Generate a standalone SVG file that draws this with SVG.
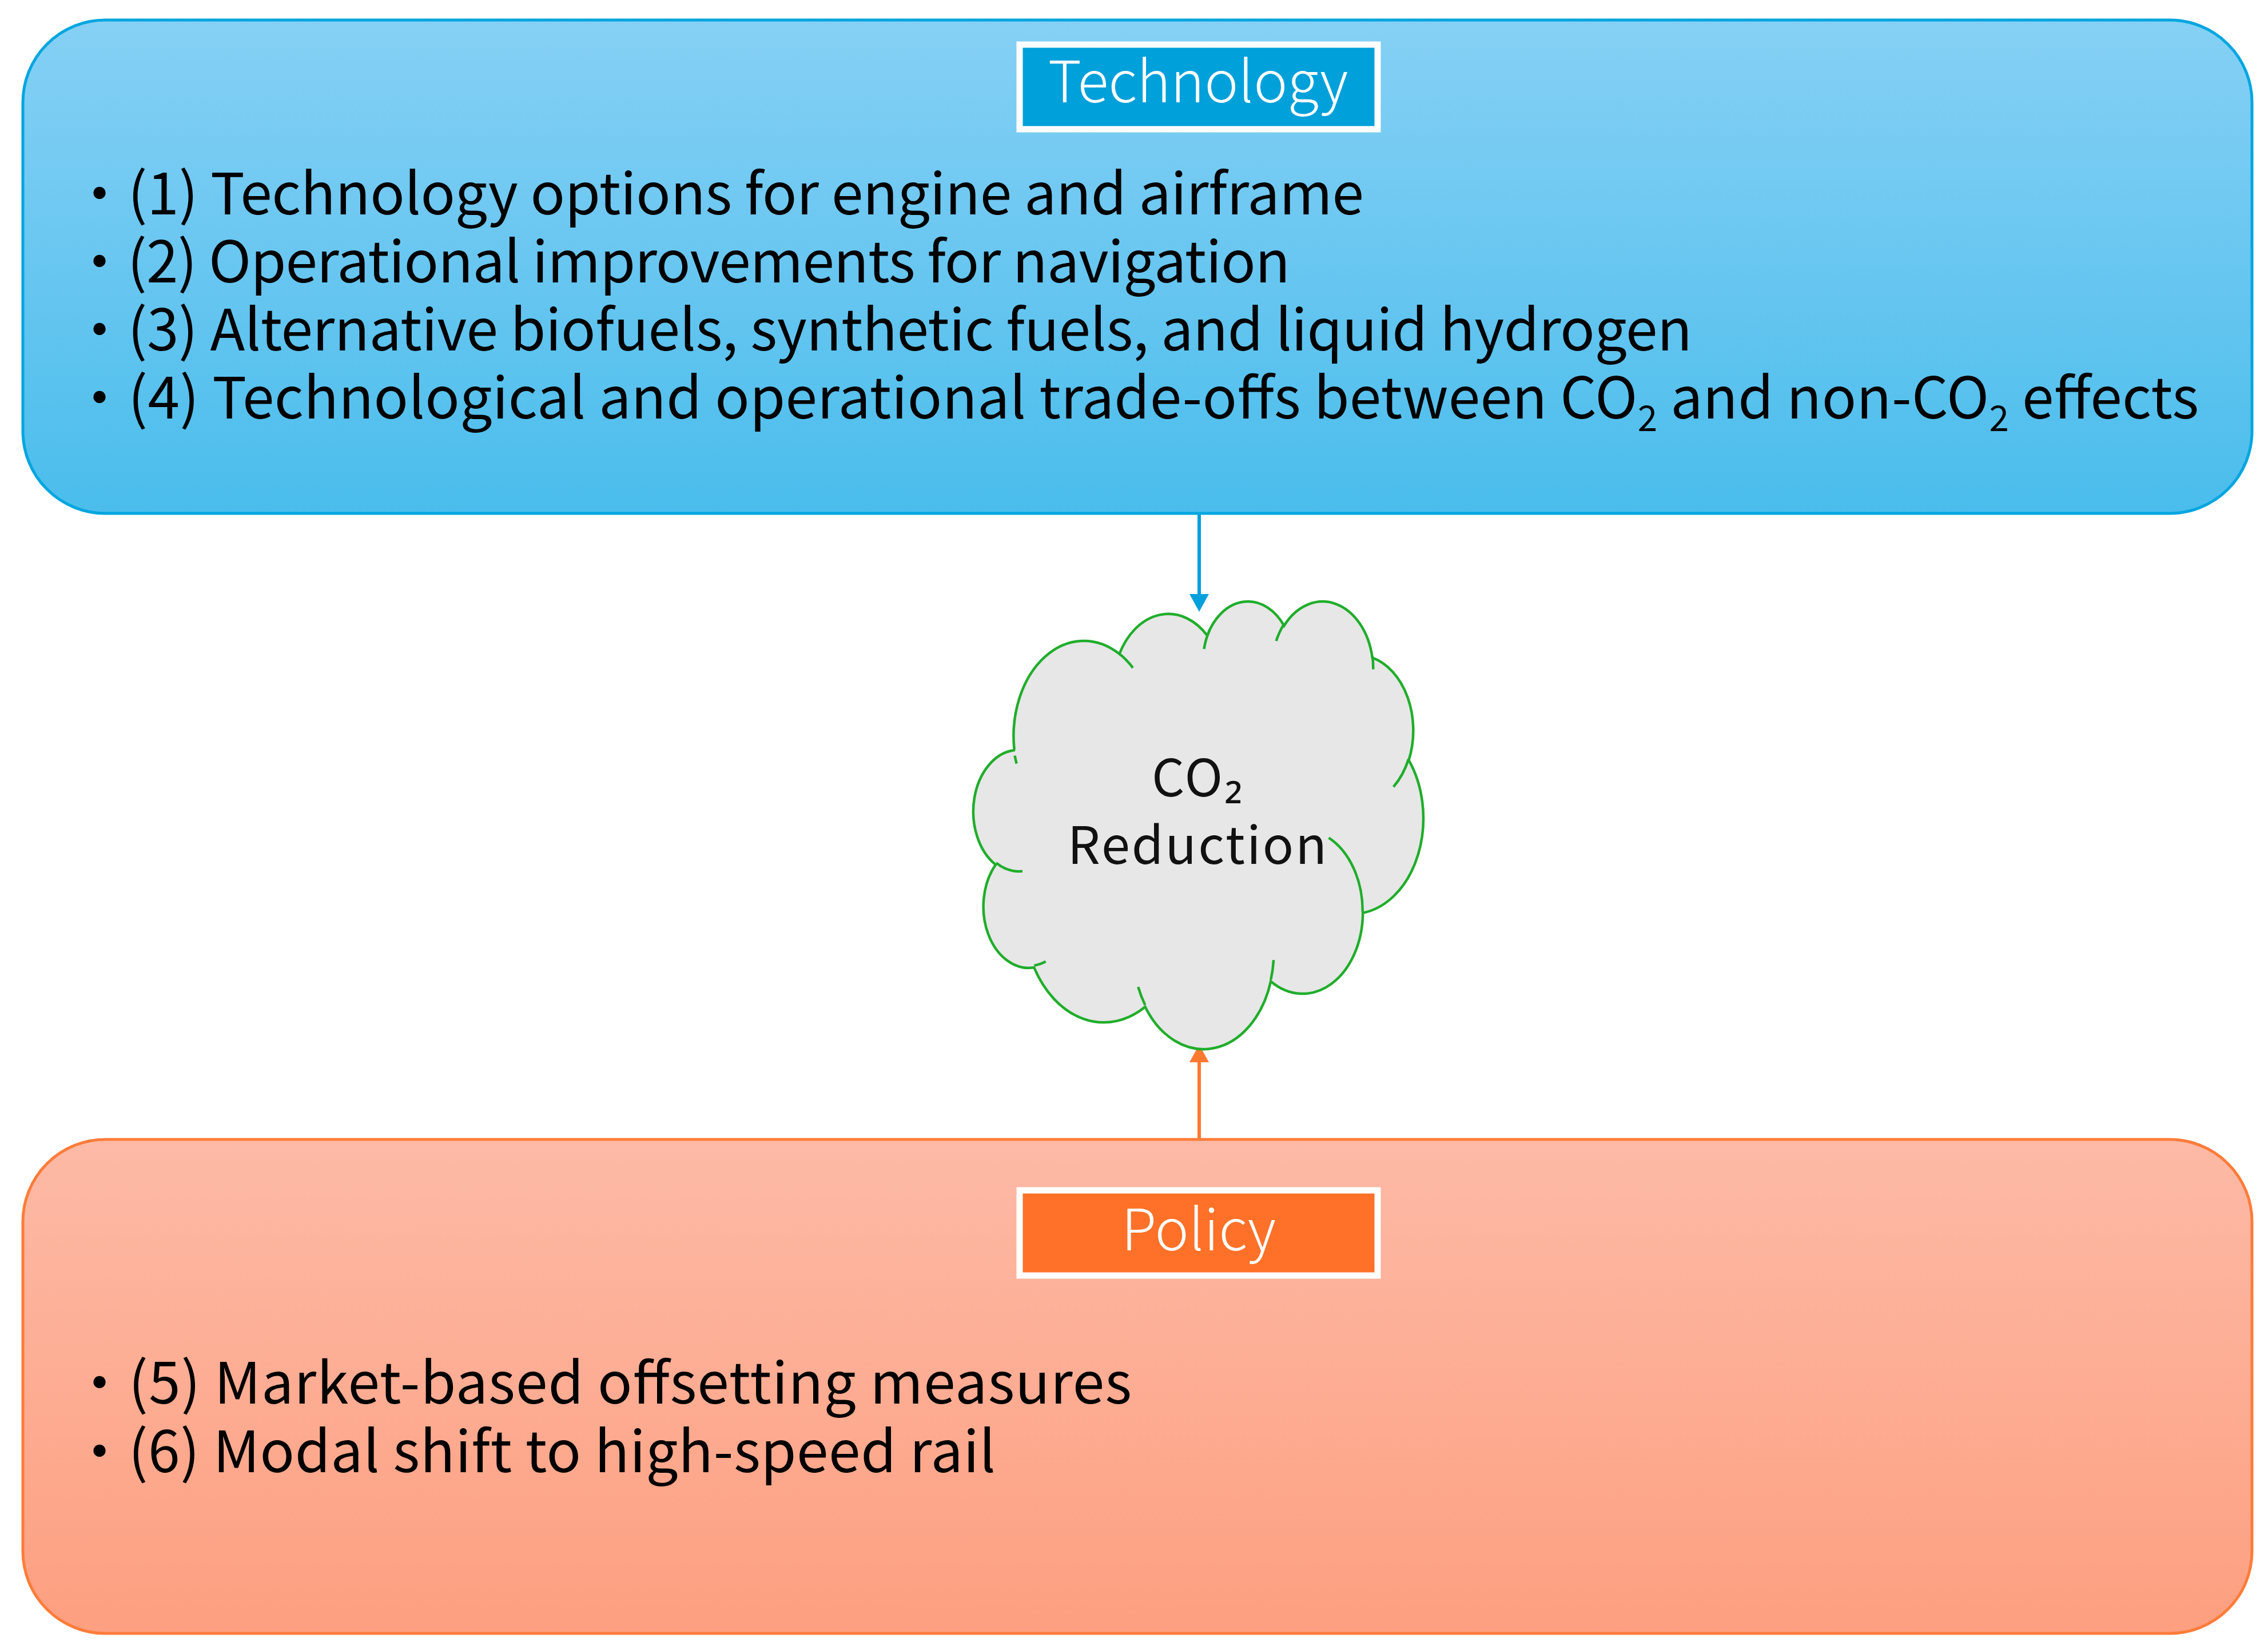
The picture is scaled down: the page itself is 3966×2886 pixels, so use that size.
<svg xmlns="http://www.w3.org/2000/svg" width="3966" height="2886" viewBox="0 0 3966 2886">
<style>
.t{font-family:"Noto Sans CJK JP","Noto Sans",sans-serif;}
.body{font-size:100px;fill:#000;}
.lab{font-size:100px;fill:#fff;font-weight:300;text-anchor:middle;}
.cl{font-size:90px;fill:#111;text-anchor:middle;letter-spacing:3px;}
.sub{font-size:62px;}
</style>
<defs>
<linearGradient id="gBlue" x1="0" y1="0" x2="0" y2="1">
<stop offset="0" stop-color="#86D0F5"/>
<stop offset="1" stop-color="#4ABDEC"/>
</linearGradient>
<linearGradient id="gOrange" x1="0" y1="0" x2="0" y2="1">
<stop offset="0" stop-color="#FDBAA6"/>
<stop offset="1" stop-color="#FD9F80"/>
</linearGradient>
<marker id="aBlue" markerUnits="userSpaceOnUse" markerWidth="32" markerHeight="34" refX="0" refY="17" orient="auto" overflow="visible">
<path d="M0,0 L31,17 L0,34 Z" fill="#00A0DC"/>
</marker>
<marker id="aOrange" markerUnits="userSpaceOnUse" markerWidth="32" markerHeight="34" refX="0" refY="17" orient="auto" overflow="visible">
<path d="M0,0 L31,17 L0,34 Z" fill="#FF7A30"/>
</marker>
</defs>
<rect width="3966" height="2886" fill="#fff"/>

<g id="connectors">
<line x1="2097" y1="898" x2="2097" y2="1039" stroke="#00A0DC" stroke-width="6" marker-end="url(#aBlue)"/>
<line x1="2097" y1="1993" x2="2097" y2="1858" stroke="#FF7A30" stroke-width="6" marker-end="url(#aOrange)"/>
</g>

<g id="technology">
<rect x="40" y="35" width="3898" height="863" rx="144" ry="144" fill="url(#gBlue)" stroke="#00A6DF" stroke-width="5"/>
<rect x="1783" y="78" width="626" height="148" fill="#00A0DA" stroke="#fff" stroke-width="11"/>
<text class="t lab" x="2095" y="179">Technology</text>
<text class="t body" x="124" y="375" textLength="2261" lengthAdjust="spacing">・(1) Technology options for engine and airframe</text>
<text class="t body" x="124" y="494" textLength="2132" lengthAdjust="spacing">・(2) Operational improvements for navigation</text>
<text class="t body" x="124" y="613" textLength="2835" lengthAdjust="spacing">・(3) Alternative biofuels, synthetic fuels, and liquid hydrogen</text>
<text class="t body" x="124" y="732" textLength="3721" lengthAdjust="spacing">・(4) Technological and operational trade-offs between CO<tspan class="sub" dy="22">2</tspan><tspan dy="-22"> and non-CO</tspan><tspan class="sub" dy="22">2</tspan><tspan dy="-22"> effects</tspan></text>
</g>

<g id="co2-reduction">
<g transform="translate(1702.6 1049.5) scale(0.018195 0.018119)">
<path d="M3900 14370 A6753 9190 0 0 1 14005 5202 A5333 7267 0 0 1 22456 3432 A4365 5945 0 0 1 29833 2480 A4857 6595 0 0 1 38319 5573 A5333 7273 0 0 1 41819 15457 A6775 9220 0 0 1 37405 30199 A5785 7867 0 0 1 28557 36810 A6752 9215 0 0 1 16482 39265 A7720 10543 0 0 1 5805 35471 A4360 5918 0 0 1 2113 25550 A4345 5945 0 0 1 3864 14507 Z" fill="#E7E7E7" stroke="#20AD2B" stroke-width="4.5" vector-effect="non-scaling-stroke"/>
<path d="M4693 26177 A4345 5945 0 0 1 2159 25379 M6928 34899 A4360 5918 0 0 1 5819 35281 M16478 39090 A6752 9215 0 0 1 15810 37347 M28827 34751 A6752 9215 0 0 1 28561 36659 M34129 22954 A5785 7867 0 0 1 37381 30090 M41798 15354 A5333 7273 0 0 1 40349 18031 M38324 5426 A4857 6595 0 0 1 38400 6690 M29078 3952 A4857 6595 0 0 1 29819 2341 M22141 4720 A4365 5945 0 0 1 22665 2922 M14000 5192 A6753 9190 0 0 1 15301 6542 M4127 15789 A6753 9190 0 0 1 3952 15015" fill="none" stroke="#20AD2B" stroke-width="4.5" vector-effect="non-scaling-stroke"/>
</g>
<text class="t cl" x="2095" y="1393">CO₂</text>
<text class="t cl" x="2095" y="1511">Reduction</text>
</g>

<g id="policy">
<rect x="40" y="1993" width="3898" height="864" rx="144" ry="144" fill="url(#gOrange)" stroke="#FF7C3A" stroke-width="5"/>
<rect x="1783" y="2082" width="626" height="149" fill="#FF7128" stroke="#fff" stroke-width="11"/>
<text class="t lab" x="2096" y="2187">Policy</text>
<text class="t body" x="124" y="2455" textLength="1855" lengthAdjust="spacing">・(5) Market-based offsetting measures</text>
<text class="t body" x="124" y="2575" textLength="1617" lengthAdjust="spacing">・(6) Modal shift to high-speed rail</text>
</g>
</svg>
